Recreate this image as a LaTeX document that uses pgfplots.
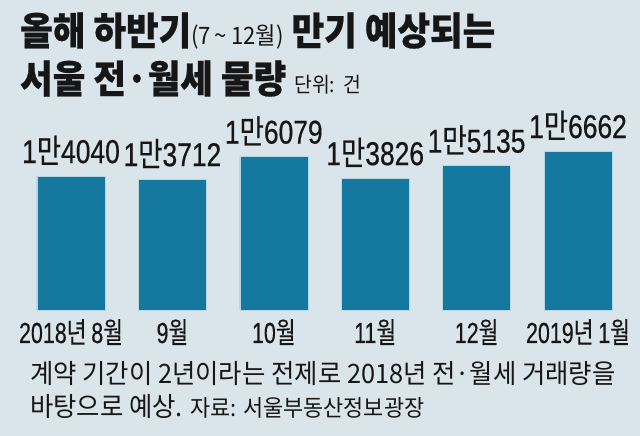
\documentclass[border=0pt]{standalone}
\usepackage{pgfplots}
\pgfplotsset{compat=1.18}
\usepackage{fontspec}
\setmainfont{Noto Sans CJK KR}
\newfontfamily\krtitle[FakeStretch=0.92, BoldFeatures={FakeBold=0.6}]{Noto Sans CJK KR}
\newfontfamily\krnum[FakeStretch=0.74, FakeBold=0.3]{Noto Sans CJK KR}
\newfontfamily\numf[FakeStretch=0.74, FakeBold=0.4]{Liberation Sans}
\newfontfamily\krval[FakeStretch=0.8, FakeBold=0.3]{Noto Sans CJK KR}
\newfontfamily\numv[FakeStretch=0.8, FakeBold=0.5]{Liberation Sans}
\newfontfamily\krnote[FakeStretch=0.95]{Noto Sans CJK KR}
\newcommand\lab[1]{{\numv 1}{\krval 만}{\numv #1}}
\newcommand\tl[1]{{\numf #1}{\krnum 월}}
\definecolor{bgc}{HTML}{DAE4EB}
\definecolor{barc}{HTML}{15789E}
\definecolor{txt}{HTML}{161616}
\begin{document}
\begin{tikzpicture}[x=1pt,y=1pt]
\fill[bgc] (0,0) rectangle (640,436);
\begin{axis}[
  at={(20.3pt,126pt)}, anchor=south west,
  scale only axis, width=608.4pt, height=162.2pt,
  xmin=-0.5, xmax=5.5, ymin=0, ymax=17000,
  axis line style={draw=none}, major tick length=0pt,
  ytick=\empty, xtick=data,
  xticklabels={{{\numf 2018}{\krnum 년} \tl{8}},\tl{9},\tl{10},\tl{11},\tl{12},{{\numf 2019}{\krnum 년} \tl{1}}},
  x tick label style={font=\krnum\fontsize{29}{29}\selectfont, text=txt, anchor=base, yshift=-33pt},
  ybar, bar width=68pt, bar shift=0pt, clip=false,
  point meta=explicit symbolic,
  nodes near coords,
  nodes near coords style={font=\krval\fontsize{33}{33}\selectfont, text=txt, anchor=base, yshift=13pt},
]
\addplot[fill=barc, draw=white!70!barc, line width=0.5pt] coordinates {
  (0,14040) [\lab{4040}]
  (1,13712) [\lab{3712}]
  (2,16079) [\lab{6079}]
  (3,13826) [\lab{3826}]
  (4,15135) [\lab{5135}]
  (5,16662) [\lab{6662}]
};
\end{axis}
\node[anchor=base west, inner sep=0, text=txt, font=\krtitle\bfseries\fontsize{38.5}{38.5}\selectfont] at (20,391) {올해 하반기{\mdseries\fontsize{24}{24}\selectfont(7\,\textasciitilde\,12월)} 만기 예상되는};
\node[anchor=base west, inner sep=0, text=txt, font=\krtitle\bfseries\fontsize{38.5}{38.5}\selectfont] at (20,343) {서울 전·월세 물량 {\mdseries\fontsize{21}{21}\selectfont 단위:\ \ 건}};
\node[anchor=base west, inner sep=0, text=txt, font=\krnote\fontsize{26.7}{26.7}\selectfont] at (30,52) {계약 기간이 2년이라는 전제로 2018년 전·월세 거래량을};
\node[anchor=base west, inner sep=0, text=txt, font=\krnote\fontsize{26.7}{26.7}\selectfont] at (30,19) {바탕으로 예상. {\fontsize{23}{23}\selectfont 자료: 서울부동산정보광장}};
\end{tikzpicture}
\end{document}
